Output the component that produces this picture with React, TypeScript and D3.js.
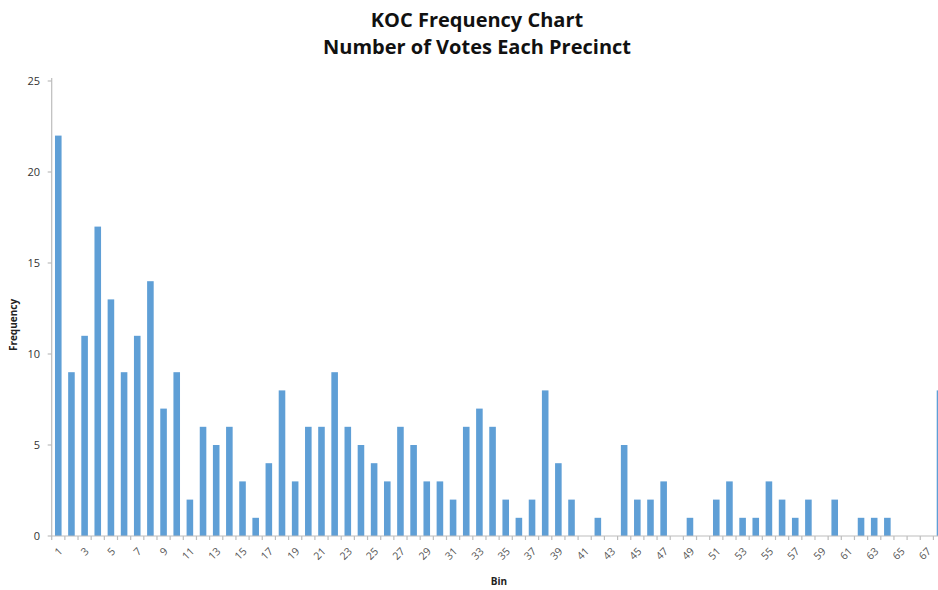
import React from "react";
import * as d3 from "d3";

const bins: number[] = Array.from({ length: 68 }, (_, i) => i + 1);
const frequency: number[] = [
  22, 9, 11, 17, 13, 9, 11, 14, 7, 9,
  2, 6, 5, 6, 3, 1, 4, 8, 3, 6,
  6, 9, 6, 5, 4, 3, 6, 5, 3, 3,
  2, 6, 7, 6, 2, 1, 2, 8, 4, 2,
  0, 1, 0, 5, 2, 2, 3, 0, 1, 0,
  2, 3, 1, 1, 3, 2, 1, 2, 0, 2,
  0, 1, 1, 1, 0, 0, 0, 8,
];
const yTicks: number[] = [0, 5, 10, 15, 20, 25];
const xLabelBins: number[] = bins.filter((b) => b % 2 === 1 && b <= 67);

const W = 938;
const H = 590;
const left = 51.7;
const step = 13.16;
const axisY = 536;
const topY = 81;

export default function App() {
  const x = d3
    .scaleBand<number>()
    .domain(bins)
    .range([left, left + step * bins.length])
    .paddingInner(0.5)
    .paddingOuter(0.25);
  const y = d3.scaleLinear().domain([0, 25]).range([axisY, topY]);
  const font = "'Open Sans', Lato, sans-serif";
  const boundaries = d3.range(0, bins.length + 1).map((i) => left + i * step);

  return (
    <svg
      width={W}
      height={H}
      style={{ position: "absolute", left: 0, top: 0, background: "#fff" }}
    >
      <text x={477} y={27} textAnchor="middle" fontFamily={font} fontWeight="bold" fontSize={20} fill="#111">
        KOC Frequency Chart
      </text>
      <text x={477} y={54} textAnchor="middle" fontFamily={font} fontWeight="bold" fontSize={20} fill="#111">
        Number of Votes Each Precinct
      </text>

      {/* bars */}
      {bins.map((b, i) => (
        <rect
          key={b}
          x={x(b)!}
          y={y(frequency[i])}
          width={x.bandwidth()}
          height={axisY - y(frequency[i])}
          fill="#5f9fd6"
        />
      ))}

      {/* y axis */}
      <line x1={left} x2={left} y1={y(25) - 3} y2={axisY} stroke="#bdbdbd" strokeWidth={1.2} />
      {yTicks.map((t) => (
        <g key={t}>
          <line x1={left - 4} x2={left} y1={y(t)} y2={y(t)} stroke="#bdbdbd" strokeWidth={1.2} />
          <text x={40} y={y(t) + 4} textAnchor="end" fontFamily={font} fontSize={11} fill="#333">
            {t}
          </text>
        </g>
      ))}

      {/* x axis */}
      <line x1={left} x2={W} y1={axisY} y2={axisY} stroke="#bdbdbd" strokeWidth={1.2} />
      {boundaries.map((bx, i) => (
        <line key={i} x1={bx} x2={bx} y1={axisY} y2={axisY + 4} stroke="#bdbdbd" strokeWidth={1.2} />
      ))}
      {xLabelBins.map((b) => {
        const cx = x(b)! + x.bandwidth() / 2 + 5;
        const cy = axisY + 16;
        return (
          <text
            key={b}
            x={cx}
            y={cy}
            textAnchor="end"
            fontFamily={font}
            fontSize={10.5}
            fill="#555"
            transform={`rotate(-45, ${cx}, ${cy})`}
          >
            {b}
          </text>
        );
      })}

      <text x={499} y={585} textAnchor="middle" fontFamily={font} fontWeight="bold" fontSize={10} fill="#222">
        Bin
      </text>
      <text
        x={0}
        y={0}
        textAnchor="middle"
        fontFamily={font}
        fontWeight="bold"
        fontSize={10}
        fill="#222"
        transform={`translate(17, 325) rotate(-90)`}
      >
        Frequency
      </text>
    </svg>
  );
}
